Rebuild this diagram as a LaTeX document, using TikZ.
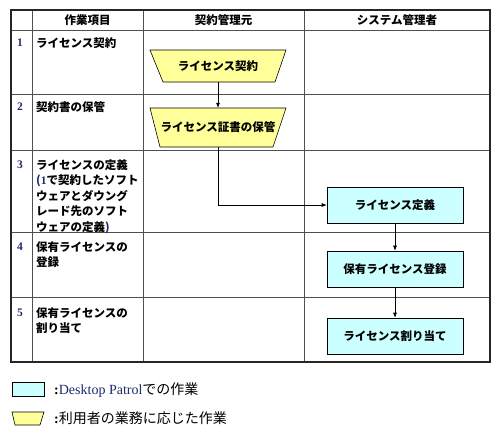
\documentclass[tikz,border=0pt]{standalone}
\usepackage{fontspec}
\setmainfont{Liberation Serif}
\newfontfamily\jp{Noto Sans CJK JP}
\usetikzlibrary{arrows.meta}
\definecolor{cyanbox}{HTML}{CCFFFF}
\definecolor{yelbox}{HTML}{FFFF99}
\definecolor{navy}{HTML}{1F2A6B}
\definecolor{gridc}{HTML}{505050}
\tikzset{
  gridline/.style={draw=gridc, line width=0.8pt},
  outerline/.style={draw=black!85, line width=1.8pt},
  cell/.style={anchor=north west, inner sep=0pt, align=left, font=\jp\bfseries\fontsize{11.5}{15.5}\selectfont},
  head/.style={inner sep=0pt, font=\jp\bfseries\fontsize{11.5}{14}\selectfont},
  num/.style={inner sep=0pt, font=\bfseries\fontsize{11.5}{14}\selectfont, text=navy},
  yelshape/.style={draw=black, line width=0.6pt, fill=yelbox},
  flowtext/.style={inner sep=0pt, font=\jp\bfseries\fontsize{11.5}{14}\selectfont},
  cbox/.style={draw=black, line width=0.6pt, fill=cyanbox, minimum width=136pt, minimum height=36pt, inner sep=0pt, font=\jp\bfseries\fontsize{11.5}{14}\selectfont},
  arr/.style={draw=black, line width=0.6pt, -{Latex[length=5pt,width=4pt]}},
  legtext/.style={anchor=west, inner sep=0pt, font=\jp\fontsize{14}{16}\selectfont}
}
\begin{document}
\begin{tikzpicture}[x=1pt,y=-1pt]
\useasboundingbox (0,0) rectangle (500,436);
\fill[white] (0,0) rectangle (500,436);
% grid
\foreach \xx in {32,143,304} \draw[gridline] (\xx,10) -- (\xx,362);
\foreach \yy in {30.5,94,150,232,297} \draw[gridline] (11,\yy) -- (490,\yy);
\draw[outerline] (11,10) rectangle (490,362);
% header
\node[head] (h1) at (87.5,20) {作業項目};
\node[head] (h2) at (223.5,20) {契約管理元};
\node[head] (h3) at (397,20) {システム管理者};
% numbers
\node[num] (n1) at (20,43) {1};
\node[num] (n2) at (20,107) {2};
\node[num] (n3) at (20,165) {3};
\node[num] (n4) at (20,247) {4};
\node[num] (n5) at (20,313) {5};
% row labels
\node[cell] (c1) at (36,37) {ライセンス契約};
\node[cell] (c2) at (36,101) {契約書の保管};
\node[cell] (c3) at (36,159) {ライセンスの定義\\{\color{navy}(}{\normalfont\bfseries\color{navy}1}で契約したソフト\\ウェアとダウング\\レード先のソフト\\ウェアの定義{\color{navy})}};
\node[cell] (c4) at (36,241) {保有ライセンスの\\登録};
\node[cell] (c5) at (36,307) {保有ライセンスの\\割り当て};
% flow shapes
\draw[yelshape] (150,50) -- (286,50) -- (275,82) -- (163,82) -- cycle;
\node[flowtext, minimum height=32pt] (t1) at (218,66) {ライセンス契約};
\draw[yelshape] (150,108) -- (286,108) -- (273,147) -- (160,147) -- cycle;
\node[flowtext, minimum height=39pt] (t2) at (218,127.5) {ライセンス証書の保管};
\node[cbox] (b1) at (395,205) {ライセンス定義};
\node[cbox] (b2) at (395,269) {保有ライセンス登録};
\node[cbox] (b3) at (395,336) {ライセンス割り当て};
% connectors
\draw[arr] (t1.south) -- (t2.north);
\draw[arr] (t2.south) |- (b1.west);
\draw[arr] (b1.south) -- (b2.north);
\draw[arr] (b2.south) -- (b3.north);
% legend
\node[draw=black, line width=0.6pt, fill=cyanbox, minimum width=32pt, minimum height=14pt, inner sep=0pt] (lg1) at (28,389) {};
\node[legtext] (lt1) at (54,390) {{\rmfamily\bfseries :}{\rmfamily\color{navy}Desktop Patrol}での作業};
\draw[yelshape] (12,412) -- (44,412) -- (40,425) -- (15,425) -- cycle;
\coordinate (lg2) at (28,418.5);
\node[legtext] (lt2) at (54,418.5) {{\rmfamily\bfseries :}利用者の業務に応じた作業};
\end{tikzpicture}
\end{document}
